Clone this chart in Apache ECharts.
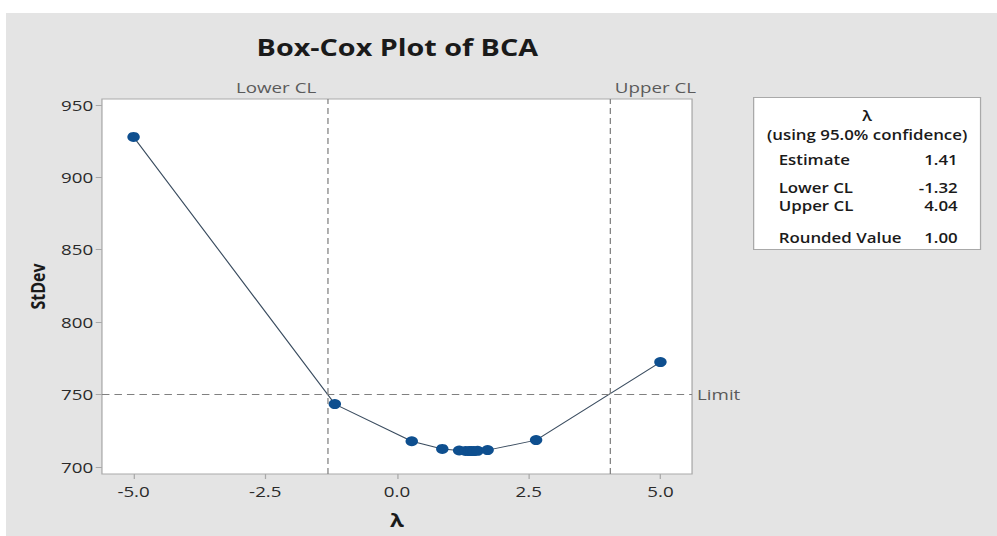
<!DOCTYPE html>
<html>
<head>
<meta charset="utf-8">
<script src="https://cdn.jsdelivr.net/npm/echarts@6/dist/echarts.min.js"></script>
<style>
  html, body { margin: 0; padding: 0; background: #fff; overflow: hidden; }
  #wrap { width: 997px; height: 536px; overflow: hidden; position: relative; }
  /* the chart is laid out in a narrower frame and widened to fill the page */
  #chart { width: 798px; height: 536px; transform: scaleX(1.2494); transform-origin: 0 0; }
</style>
</head>
<body>
<div id="wrap"><div id="chart"></div></div>
<script>
// Box-Cox search: lambda values evaluated and the resulting standard deviation
const lambdas = [-5, -1.18, 0.28, 0.86, 1.18, 1.30, 1.37, 1.41, 1.46, 1.53, 1.72, 2.64, 5];
const stdevs  = [927.8, 743.3, 717.6, 712.3, 711.2, 710.9, 710.8, 710.8, 710.8, 711.0, 711.5, 718.4, 772.3];

const xTicks = [-5, -2.5, 0, 2.5, 5];
const yTicks = [700, 750, 800, 850, 900, 950];

// Summary statistics
const confidence = 95.0;
const estimate = 1.41;
const lowerCL = -1.32;
const upperCL = 4.04;
const roundedValue = 1.00;
const limit = 750;

const tableLabels = ['Estimate', 'Lower CL', 'Upper CL', 'Rounded Value'];
const tableValues = [estimate, lowerCL, upperCL, roundedValue];

const FONT = '"Open Sans", "Noto Sans", sans-serif';
const frameColor = '#a9a9a9';
const textColor = '#1a1a1a';

const chart = echarts.init(document.getElementById('chart'), null, { renderer: 'svg' });

// summary box
const rowY = [62, 90, 108, 140];
const boxW = 181.6;
function boxText(text, x, y, align, weight) {
  return {
    type: 'text', x: x, y: y,
    style: { text: text, font: (weight || '600') + ' 13.5px ' + FONT, fill: textColor,
             align: align, verticalAlign: 'middle', textAlign: align, textVerticalAlign: 'middle' }
  };
}
const tableChildren = [
  { type: 'rect', shape: { x: 0, y: 0, width: boxW, height: 152 },
    style: { fill: '#ffffff', stroke: frameColor, lineWidth: 1 } },
  boxText('λ', boxW / 2, 18, 'center'),
  boxText('(using ' + confidence.toFixed(1) + '% confidence)', boxW / 2, 37, 'center')
];
tableLabels.forEach((lab, i) => {
  tableChildren.push(boxText(lab, 20, rowY[i], 'left'));
  tableChildren.push(boxText(tableValues[i].toFixed(2), 163.3, rowY[i], 'right'));
});

const refLabel = {
  show: true,
  position: 'end',
  distance: 4,
  color: '#5a5a5a',
  fontFamily: FONT,
  fontSize: 15
};

chart.setOption({
  backgroundColor: '#e4e4e4',
  animation: false,
  title: {
    text: 'Box-Cox Plot of BCA',
    left: 313,
    top: 31,
    textAlign: 'center',
    textStyle: { fontFamily: FONT, fontSize: 23, fontWeight: 'bold', color: textColor }
  },
  grid: {
    left: 81.6, right: 244.1, top: 99, bottom: 62,
    containLabel: false,
    outerBoundsMode: 'none',
    show: true, backgroundColor: '#ffffff', borderColor: frameColor, borderWidth: 1
  },
  xAxis: {
    type: 'value',
    min: -5.6, max: 5.6,
    name: 'λ',
    nameLocation: 'middle',
    nameGap: 37,
    nameTextStyle: { fontFamily: FONT, fontSize: 18, fontWeight: 'bold', color: textColor },
    axisLine: { show: false, onZero: false },
    splitLine: { show: false },
    axisTick: { show: true, customValues: xTicks, length: 5, lineStyle: { color: frameColor } },
    axisLabel: { customValues: xTicks, formatter: v => v.toFixed(1), margin: 10,
                 fontFamily: FONT, fontSize: 15, color: '#2a2a2a' }
  },
  yAxis: {
    type: 'value',
    min: 695, max: 954,
    name: 'StDev',
    nameLocation: 'middle',
    nameGap: 36,
    nameTextStyle: { fontFamily: FONT, fontSize: 16, fontWeight: 'bold', color: textColor },
    axisLine: { show: false, onZero: false },
    splitLine: { show: false },
    axisTick: { show: true, customValues: yTicks, length: 5, lineStyle: { color: frameColor } },
    axisLabel: { customValues: yTicks, margin: 7,
                 fontFamily: FONT, fontSize: 15, color: '#2a2a2a' }
  },
  series: [{
    type: 'line',
    data: lambdas.map((x, i) => [x, stdevs[i]]),
    symbol: 'circle',
    symbolSize: 10,
    itemStyle: { color: '#0e4f8f' },
    lineStyle: { color: '#3b4d60', width: 1 },
    markLine: {
      silent: true,
      symbol: 'none',
      lineStyle: { type: [6, 4], color: '#808080', width: 1 },
      data: [
        { xAxis: lowerCL, label: Object.assign({}, refLabel, { formatter: 'Lower CL', align: 'right', padding: [0, 9, 0, 0] }) },
        { xAxis: upperCL, label: Object.assign({}, refLabel, { formatter: 'Upper CL', align: 'left', padding: [0, 0, 0, 4] }) },
        { yAxis: limit, label: Object.assign({}, refLabel, { formatter: 'Limit' }) }
      ]
    }
  }],
  graphic: [
    { type: 'rect', left: 0, top: 0, shape: { width: 798, height: 13 }, style: { fill: '#ffffff' } },
    { type: 'rect', left: 0, top: 0, shape: { width: 4.8, height: 536 }, style: { fill: '#ffffff' } },
    { type: 'group', left: 602.7, top: 97, children: tableChildren }
  ]
});
</script>
</body>
</html>
